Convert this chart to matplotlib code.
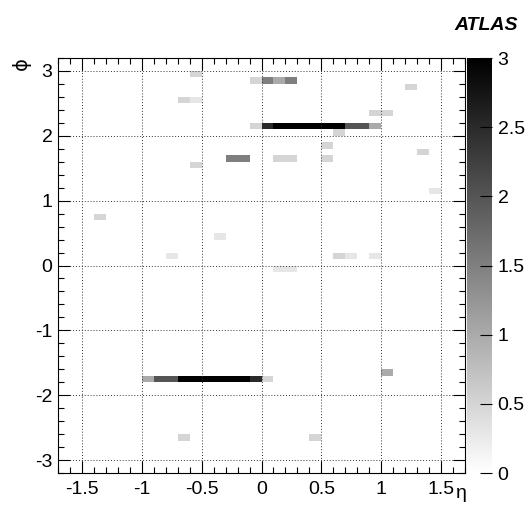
import numpy as np
import matplotlib
matplotlib.use("Agg")
import matplotlib.pyplot as plt
from matplotlib.colors import LinearSegmentedColormap
from matplotlib.ticker import MultipleLocator, FormatStrFormatter

plt.rcParams['font.family'] = ['Liberation Sans', 'DejaVu Sans']
plt.rcParams['axes.unicode_minus'] = False

# ---- cell contents (bin centres in eta / phi, content) ----
eta = [-0.95, -0.85, -0.75, -0.65, -0.55, -0.45, -0.35, -0.25, -0.15, -0.05, 0.05,   # bottom track
       -0.05, 0.05, 0.15, 0.25, 0.35, 0.45, 0.55, 0.65, 0.75, 0.85, 0.95,            # top track
       0.65, -0.05, 0.05, 0.15, 0.25, 0.95, 1.05, 1.25, 0.55,
       0.55, 0.15, 0.25, -0.25, -0.15, 1.35, 1.45, -0.55, -0.55,
       -0.65, -0.55, -1.35, -0.75, 0.65, 0.75, 0.95, -0.35,
       0.15, 0.25, 1.05, -0.65, 0.45]
phi = [-1.75] * 11 + [2.15] * 11 + \
      [2.05, 2.85, 2.85, 2.85, 2.85, 2.35, 2.35, 2.75, 1.85,
       1.65, 1.65, 1.65, 1.65, 1.65, 1.75, 1.15, 1.55, 2.95,
       2.55, 2.55, 0.75, 0.15, 0.15, 0.15, 0.15, 0.45,
       -0.05, -0.05, -1.65, -2.65, -2.65]
content = [1.0, 2.0, 2.0, 3, 3, 3, 3, 3, 3, 2.5, 0.5,
           0.5, 2.5, 3, 3, 3, 3, 3, 3, 2.0, 2.0, 1.0,
           0.5, 0.5, 1.5, 1.0, 1.5, 0.5, 0.5, 0.5, 0.5,
           0.5, 0.5, 0.5, 1.5, 1.5, 0.5, 0.3, 0.5, 0.5,
           0.5, 0.3, 0.5, 0.3, 0.5, 0.3, 0.3, 0.3,
           0.3, 0.3, 1.0, 0.5, 0.5]

eta_edges = np.linspace(-1.7, 1.7, 35)
phi_edges = np.linspace(-3.2, 3.2, 65)

W, H = 528, 511
fig = plt.figure(figsize=(W / 100, H / 100), dpi=100)
ax = fig.add_axes([58 / W, 38 / H, 407 / W, 415 / H])

cmap = LinearSegmentedColormap.from_list("wb", ["white", "black"])
h = ax.hist2d(eta, phi, bins=[eta_edges, phi_edges], weights=content,
              cmap=cmap, vmin=0, vmax=3)

ax.set_xlim(-1.7, 1.7)
ax.set_ylim(-3.2, 3.2)
ax.xaxis.set_major_locator(MultipleLocator(0.5))
ax.xaxis.set_minor_locator(MultipleLocator(0.1))
ax.yaxis.set_major_locator(MultipleLocator(1))
ax.yaxis.set_minor_locator(MultipleLocator(0.2))
ax.xaxis.set_major_formatter(FormatStrFormatter('%g'))
ax.yaxis.set_major_formatter(FormatStrFormatter('%g'))
ax.tick_params(which='both', direction='in', top=True, right=True,
               width=0.8, labelsize=14)
ax.tick_params(which='major', length=8.6)
ax.tick_params(which='minor', length=4.3)
ax.tick_params(axis='x', pad=6)
ax.tick_params(axis='y', pad=4)
ax.grid(True, which='major', color='#333333', linestyle=(0, (1, 2)), linewidth=0.7)
for s in ax.spines.values():
    s.set_linewidth(0.8)

# palette
cax = fig.add_axes([467 / W, 38 / H, 25 / W, 415 / H])
cb = fig.colorbar(h[3], cax=cax)
cb.outline.set_visible(False)
cb.set_ticks(np.arange(0, 3.01, 0.5))
cb.ax.yaxis.set_major_formatter(FormatStrFormatter('%g'))
cb.ax.minorticks_off()
cax.tick_params(direction='in', length=8.6, width=0.8, labelsize=14, pad=4)

fig.text(461 / W, 1 - 493 / H, "η", fontsize=14, ha='center', va='center')
fig.text(21 / W, 1 - 64 / H, "\u03d5", fontsize=14, ha='center', va='center',
         rotation=90, family=['DejaVu Sans'])
fig.text(518 / W, 1 - 25 / H, "ATLAS", fontsize=14, ha='right', va='center',
         fontweight='bold', fontstyle='italic')

fig.savefig("out.png", dpi=100)
